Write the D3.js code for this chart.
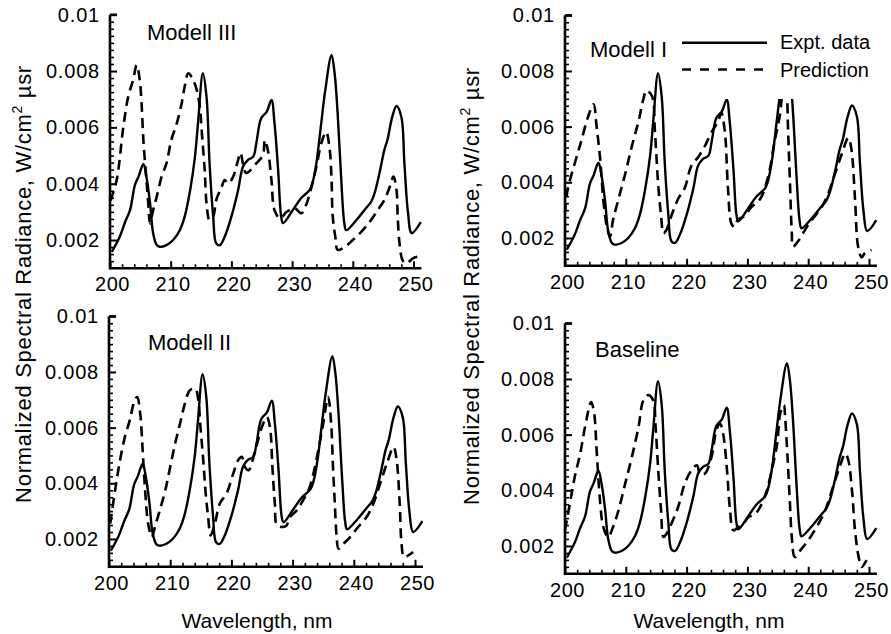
<!DOCTYPE html>
<html><head><meta charset="utf-8">
<script src="https://cdn.jsdelivr.net/npm/d3@7"></script>
<style>
body{margin:0;background:#fff}
svg{display:block}
text{font-family:"Liberation Sans",Arial,Helvetica,sans-serif;fill:#000}
</style>
</head><body>
<svg id="chart" width="891" height="634"></svg>
<script>
// ---------------- data ----------------
const xTickValues = [200, 210, 220, 230, 240, 250];
const yTickValues = [0.002, 0.004, 0.006, 0.008, 0.01];
const yTickLabels = ["0.002", "0.004", "0.006", "0.008", "0.01"];
const panelTitles = ["Modell III", "Modell I", "Modell II", "Baseline"];
const legendLabels = ["Expt. data", "Prediction"];
const xAxisTitle = "Wavelength, nm";

// experimental spectrum [wavelength nm, radiance]
const exptData = [[200.3,0.00158],[201.6,0.00212],[202.5,0.00265],[203.3,0.00306],[204.1,0.00395],[204.7,0.00425],[205.5,0.00470],[206.0,0.00425],[206.6,0.00331],[207.1,0.00225],[207.7,0.00182],[208.2,0.00176],[209.3,0.00182],[210.4,0.00200],[211.5,0.00235],[212.3,0.00283],[213.2,0.00377],[214.0,0.00496],[214.5,0.00615],[215.3,0.00792],[215.9,0.00709],[216.4,0.00473],[217.0,0.00283],[217.5,0.00188],[218.1,0.00182],[218.9,0.00212],[220.0,0.00283],[221.1,0.00377],[221.9,0.00460],[222.7,0.00484],[223.6,0.00496],[224.1,0.00543],[224.9,0.00632],[225.8,0.00655],[226.6,0.00697],[227.1,0.00615],[227.7,0.00448],[228.2,0.00283],[228.5,0.00260],[230.1,0.00306],[231.5,0.00349],[232.9,0.00378],[233.4,0.00406],[234.0,0.00473],[234.8,0.00615],[235.4,0.00722],[236.5,0.00857],[237.0,0.00793],[237.5,0.00651],[238.1,0.00413],[238.6,0.00260],[238.9,0.00235],[240.6,0.00271],[242.2,0.00314],[243.0,0.00335],[243.6,0.00367],[244.4,0.00438],[245.2,0.00520],[245.7,0.00555],[246.5,0.00637],[247.2,0.00676],[248.0,0.00637],[248.5,0.00473],[249.1,0.00296],[249.7,0.00225],[251.2,0.00264]];

const modell3Pred = [[200.1,0.00340],[201.1,0.00413],[202.2,0.00602],[203.0,0.00709],[203.8,0.00768],[204.4,0.00821],[204.9,0.00768],[205.2,0.00685],[205.5,0.00555],[206.0,0.00413],[206.3,0.00331],[206.6,0.00259],[207.1,0.00306],[207.7,0.00354],[208.5,0.00425],[209.3,0.00472],[210.1,0.00555],[211.0,0.00614],[211.8,0.00685],[212.3,0.00744],[212.9,0.00792],[213.7,0.00768],[214.3,0.00732],[214.8,0.00673],[215.1,0.00590],[215.6,0.00448],[215.9,0.00331],[216.4,0.00270],[217.0,0.00283],[217.5,0.00342],[218.4,0.00389],[218.9,0.00413],[219.5,0.00401],[220.3,0.00425],[221.1,0.00484],[221.5,0.00510],[222.0,0.00460],[222.4,0.00438],[223.0,0.00445],[224.1,0.00472],[225.2,0.00502],[225.5,0.00555],[226.0,0.00520],[226.6,0.00413],[227.1,0.00306],[228.0,0.00277],[229.1,0.00300],[230.4,0.00313],[231.5,0.00295],[232.4,0.00330],[233.2,0.00389],[234.0,0.00460],[234.8,0.00543],[235.6,0.00584],[236.2,0.00520],[236.5,0.00413],[236.7,0.00283],[237.2,0.00200],[237.5,0.00165],[238.7,0.00176],[240.0,0.00200],[241.4,0.00229],[242.8,0.00265],[244.1,0.00306],[245.2,0.00342],[246.1,0.00389],[246.7,0.00425],[247.2,0.00378],[247.4,0.00283],[247.7,0.00188],[248.2,0.00129],[248.8,0.00117],[249.9,0.00135],[250.7,0.00141]];

const modell1Pred = [[200.0,0.00290],[200.4,0.00370],[201.9,0.00490],[202.7,0.00550],[203.8,0.00636],[204.7,0.00680],[205.2,0.00600],[205.8,0.00480],[206.3,0.00337],[206.9,0.00240],[207.4,0.00205],[207.9,0.00265],[208.8,0.00340],[209.9,0.00430],[211.0,0.00530],[212.1,0.00620],[212.9,0.00700],[213.4,0.00730],[214.3,0.00710],[214.8,0.00580],[215.3,0.00400],[215.8,0.00280],[216.2,0.00217],[216.7,0.00230],[217.5,0.00280],[218.6,0.00340],[219.7,0.00380],[220.8,0.00460],[221.9,0.00490],[223.0,0.00530],[224.1,0.00580],[225.2,0.00620],[225.7,0.00650],[226.3,0.00580],[226.8,0.00380],[227.4,0.00250],[227.9,0.00240],[228.4,0.00265],[229.6,0.00280],[230.6,0.00310],[232.1,0.00340],[233.4,0.00420],[234.5,0.00550],[235.4,0.00650],[236.0,0.00790],[236.4,0.00750],[236.7,0.00580],[237.0,0.00400],[237.3,0.00220],[237.5,0.00169],[238.4,0.00190],[239.5,0.00230],[240.6,0.00265],[242.2,0.00310],[243.3,0.00360],[244.4,0.00430],[245.5,0.00500],[246.6,0.00560],[247.1,0.00520],[247.7,0.00340],[248.2,0.00170],[248.8,0.00130],[249.3,0.00145],[250.4,0.00157]];

const modell2Pred = [[200.2,0.00255],[201.0,0.00375],[201.8,0.00483],[202.6,0.00567],[203.4,0.00627],[204.2,0.00699],[204.6,0.00710],[205.1,0.00650],[205.5,0.00519],[205.9,0.00375],[206.4,0.00255],[207.0,0.00207],[207.5,0.00243],[208.3,0.00303],[209.2,0.00375],[210.0,0.00459],[210.8,0.00542],[211.6,0.00614],[212.4,0.00686],[213.2,0.00734],[214.1,0.00740],[214.6,0.00698],[214.9,0.00614],[215.4,0.00483],[215.8,0.00363],[216.2,0.00279],[216.6,0.00213],[217.3,0.00255],[218.1,0.00327],[219.2,0.00363],[220.3,0.00435],[221.1,0.00483],[221.7,0.00495],[222.2,0.00459],[222.8,0.00447],[223.9,0.00519],[225.0,0.00603],[225.8,0.00638],[226.3,0.00603],[226.7,0.00459],[227.1,0.00327],[227.5,0.00249],[228.9,0.00246],[229.6,0.00279],[230.7,0.00303],[231.7,0.00339],[232.6,0.00375],[233.4,0.00435],[234.2,0.00519],[235.0,0.00614],[235.8,0.00710],[236.3,0.00614],[236.6,0.00459],[236.9,0.00327],[237.2,0.00207],[237.5,0.00165],[238.3,0.00183],[239.4,0.00207],[240.7,0.00243],[242.1,0.00279],[243.2,0.00327],[244.3,0.00399],[245.4,0.00471],[246.5,0.00530],[247.0,0.00483],[247.5,0.00327],[247.8,0.00183],[248.2,0.00135],[248.9,0.00141],[249.7,0.00153]];

const baselinePred = [[200.0,0.00256],[200.8,0.00352],[201.6,0.00448],[202.5,0.00532],[203.3,0.00628],[204.3,0.00717],[204.8,0.00675],[205.2,0.00544],[205.8,0.00352],[206.3,0.00268],[207.1,0.00232],[207.9,0.00268],[208.8,0.00328],[209.9,0.00424],[211.0,0.00520],[212.1,0.00628],[212.9,0.00724],[213.7,0.00742],[214.5,0.00724],[214.9,0.00628],[215.3,0.00484],[215.8,0.00328],[216.2,0.00232],[216.7,0.00244],[217.5,0.00280],[218.6,0.00340],[219.7,0.00424],[220.8,0.00472],[221.7,0.00490],[222.2,0.00460],[223.0,0.00460],[224.1,0.00520],[224.9,0.00616],[225.5,0.00639],[226.0,0.00604],[226.6,0.00484],[227.1,0.00340],[227.7,0.00256],[228.5,0.00268],[229.3,0.00280],[230.2,0.00304],[231.3,0.00316],[232.1,0.00340],[233.2,0.00400],[234.0,0.00472],[234.9,0.00568],[235.4,0.00675],[236.0,0.00706],[236.2,0.00664],[236.6,0.00520],[237.0,0.00352],[237.3,0.00232],[237.8,0.00160],[238.7,0.00184],[240.0,0.00220],[241.7,0.00280],[242.8,0.00328],[243.9,0.00400],[245.0,0.00472],[246.1,0.00532],[246.6,0.00508],[247.2,0.00400],[247.7,0.00256],[248.3,0.00160],[248.8,0.00125],[249.6,0.00149]];

// ---------------- layout ----------------
const panels = [
  {title: panelTitles[0], pred: modell3Pred, xr: [110, 413.5], yr: [268.2, 14.7], tx: 147, ty: 39.5},
  {title: panelTitles[1], pred: modell1Pred, xr: [565, 869], yr: [265.8, 15.3], tx: 590, ty: 57, legend: true},
  {title: panelTitles[2], pred: modell2Pred, xr: [109, 415], yr: [566.8, 316.3], tx: 148, ty: 350},
  {title: panelTitles[3], pred: baselinePred, xr: [565, 869], yr: [573.8, 323.3], tx: 595, ty: 357}
];
const xMax = 251.3;
const svg = d3.select("#chart");
const minorX = d3.range(202, 251, 2).filter(v => v % 10 !== 0);
const minorY = d3.range(0.00125, 0.01, 0.00025).filter(v => Math.abs(v / 0.002 - Math.round(v / 0.002)) > 1e-6);

panels.forEach(p => {
  const x = d3.scaleLinear().domain([200, 250]).range(p.xr);
  const y = d3.scaleLinear().domain([0.001, 0.01]).range(p.yr);
  const g = svg.append("g");
  const y0 = y(0.001), x0 = x(200);

  // minor ticks
  g.append("g").attr("transform", `translate(0,${y0})`)
    .call(d3.axisBottom(x).tickValues(minorX).tickSizeInner(-4).tickSizeOuter(0).tickFormat(""))
    .call(a => a.select(".domain").remove())
    .selectAll("line").attr("stroke-width", 1.6);
  g.append("g").attr("transform", `translate(${x0},0)`)
    .call(d3.axisLeft(y).tickValues(minorY).tickSizeInner(-4).tickSizeOuter(0).tickFormat(""))
    .call(a => a.select(".domain").remove())
    .selectAll("line").attr("stroke-width", 1.6);

  // major x axis
  const gx = g.append("g").attr("transform", `translate(0,${y0})`)
    .call(d3.axisBottom(x).tickValues(xTickValues).tickSizeInner(-7).tickSizeOuter(0).tickPadding(9).tickFormat(d3.format("d")));
  gx.select(".domain").remove();
  gx.selectAll("line").attr("stroke-width", 2);
  gx.selectAll("text").attr("font-size", 20).attr("font-family", "Liberation Sans, Arial, sans-serif")
    .attr("letter-spacing", 0.6).attr("dx", 2);

  // major y axis
  const gy = g.append("g").attr("transform", `translate(${x0},0)`)
    .call(d3.axisLeft(y).tickValues(yTickValues).tickSizeInner(-7).tickSizeOuter(0).tickPadding(10)
      .tickFormat((d, i) => yTickLabels[i]));
  gy.select(".domain").remove();
  gy.selectAll("line").attr("stroke-width", 2);
  gy.selectAll("text").attr("font-size", 20).attr("font-family", "Liberation Sans, Arial, sans-serif")
    .attr("letter-spacing", 0.8);

  // axis lines
  g.append("line").attr("x1", x0).attr("x2", x(xMax)).attr("y1", y0).attr("y2", y0)
    .attr("stroke", "#000").attr("stroke-width", 2.6);
  g.append("line").attr("x1", x0).attr("x2", x0).attr("y1", y0 + 1.3).attr("y2", y(0.01))
    .attr("stroke", "#000").attr("stroke-width", 2.6);
  g.append("line").attr("x1", x0).attr("x2", x0 + 7).attr("y1", y(0.01)).attr("y2", y(0.01))
    .attr("stroke", "#000").attr("stroke-width", 2.4);

  const line = d3.line().x(d => x(d[0])).y(d => y(d[1])).curve(d3.curveCatmullRom.alpha(0.5));
  g.append("path").datum(exptData).attr("d", line)
    .attr("fill", "none").attr("stroke", "#000").attr("stroke-width", 2.4).attr("stroke-linejoin", "round");
  g.append("path").datum(p.pred).attr("d", line)
    .attr("fill", "none").attr("stroke", "#000").attr("stroke-width", 2.6).attr("stroke-dasharray", "10,6");

  if (p.legend) {
    const lg = svg.append("g");
    lg.append("rect").attr("x", 676).attr("y", 24).attr("width", 215).attr("height", 75).attr("fill", "#fff");
    lg.append("line").attr("x1", 682).attr("x2", 767).attr("y1", 42.7).attr("y2", 42.7)
      .attr("stroke", "#000").attr("stroke-width", 2.4);
    lg.append("line").attr("x1", 682).attr("x2", 767).attr("y1", 69.5).attr("y2", 69.5)
      .attr("stroke", "#000").attr("stroke-width", 2.6).attr("stroke-dasharray", "9,9");
    lg.append("text").attr("x", 780).attr("y", 49).attr("font-size", 20).text(legendLabels[0]);
    lg.append("text").attr("x", 780).attr("y", 76.5).attr("font-size", 20).text(legendLabels[1]);
  }
  svg.append("text").attr("x", p.tx).attr("y", p.ty).attr("font-size", 22).text(p.title);
});

// y-axis titles
[[31, 284], [479, 286]].forEach(([cx, cy]) => {
  const t = svg.append("text").attr("transform", `translate(${cx},${cy}) rotate(-90)`)
    .attr("text-anchor", "middle").attr("font-size", 22).attr("letter-spacing", 0.7);
  t.append("tspan").text("Normalized Spectral Radiance, W/cm");
  t.append("tspan").attr("font-size", 14).attr("dy", -9).text("2");
  t.append("tspan").attr("dy", 9).text(" \u00B5sr");
});
// x-axis titles
[[257, 628], [709, 628]].forEach(([cx, cy]) => {
  svg.append("text").attr("x", cx).attr("y", cy).attr("text-anchor", "middle").attr("font-size", 21).text(xAxisTitle);
});
</script>
</body></html>
